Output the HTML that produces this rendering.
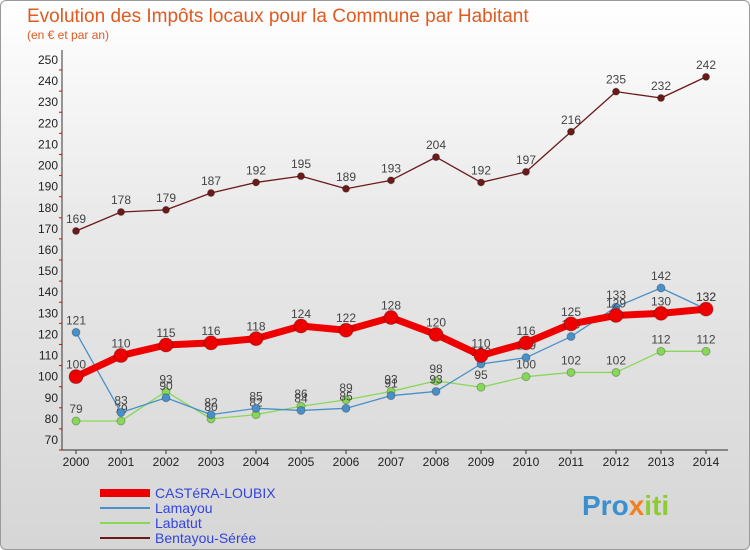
<!DOCTYPE html>
<html><head><meta charset="utf-8"><style>
body{margin:0;width:750px;height:550px;overflow:hidden;font-family:"Liberation Sans",sans-serif}
#wrap{position:absolute;left:0;top:0;width:748px;height:548px;border:1px solid #999;border-radius:6px;background:linear-gradient(#fff 0%,#e9e9e9 40%,#d6d6d6 100%)}
</style></head><body>
<div id="wrap"></div>
<svg id="chart" width="750" height="550" style="position:absolute;left:0;top:0" font-family="Liberation Sans, sans-serif">
<text x="27" y="22" font-size="19" fill="#e05a20">Evolution des Impôts locaux pour la Commune par Habitant</text>
<text x="27" y="39" font-size="12" fill="#e05a20">(en € et par an)</text>
<g id="axes"></g><g id="series"></g><g id="legend"></g>
<text x="582" y="515" font-size="28" font-weight="bold" fill="#3a8fd0">Pro<tspan fill="#f08020">x</tspan><tspan fill="#8ccc30">iti</tspan></text>
</svg>
<script>
const years=[2000,2001,2002,2003,2004,2005,2006,2007,2008,2009,2010,2011,2012,2013,2014];
const yTicks=[70,80,90,100,110,120,130,140,150,160,170,180,190,200,210,220,230,240,250];
const castera=[100,110,115,116,118,124,122,128,120,110,116,125,129,130,132];
const lamayou=[121,83,90,82,85,84,85,91,93,106,109,119,133,142,132];
const labatut=[79,79,93,80,82,86,89,93,98,95,100,102,102,112,112];
const bentayou=[169,178,179,187,192,195,189,193,204,192,197,216,235,232,242];
const seriesNames=["CASTéRA-LOUBIX","Lamayou","Labatut","Bentayou-Sérée"];
const NS="http://www.w3.org/2000/svg";
const x=i=>76+i*45;
const y=v=>440-(v-70)*380/180;
function mk(tag,attrs,parent,text){const e=document.createElementNS(NS,tag);for(const k in attrs)e.setAttribute(k,attrs[k]);if(text!==undefined)e.textContent=text;parent.appendChild(e);return e;}
const axes=document.getElementById('axes');
let ax=mk('line',{x1:62,y1:50,x2:62,y2:450,stroke:'#333'},axes);


ax=mk('line',{x1:62,y1:450,x2:728,y2:450,stroke:'#333'},axes);


yTicks.forEach(v=>{
 const t=mk('text',{x:58,y:y(v)+4,'font-size':12,fill:'#222','text-anchor':'end'},axes,v);
 
 
 mk('line',{x1:59,x2:62,y1:y(v)+10,y2:y(v)+10,stroke:'#e00'},axes);
});
years.forEach((yr,i)=>{
 mk('line',{x1:x(i),x2:x(i),y1:450,y2:454,stroke:'#333'},axes);
 const t=mk('text',{x:x(i),y:466,'font-size':12,fill:'#222','text-anchor':'middle'},axes,yr);
 
 
});
const sg=document.getElementById('series');
function draw(data,color,w,r,name){
 const g=mk('g',{},sg);
 
 
 mk('polyline',{points:data.map((v,i)=>x(i)+','+y(v)).join(' '),fill:'none',stroke:color,'stroke-width':w,'stroke-linejoin':'round'},g);
 data.forEach((v,i)=>{
  const c=mk('circle',{cx:x(i),cy:y(v),r:r,fill:color,stroke:'rgba(0,0,0,0.25)'},g);
  
  
  const t=mk('text',{x:x(i),y:y(v)-8,'font-size':12,fill:'#444','text-anchor':'middle'},g,v);
  
  
 });
}
draw(bentayou,'#6b1a1a',1.3,3.5,'bentayou-series');
draw(labatut,'#88d858',1.3,4,'labatut-series');
draw(lamayou,'#4a90c8',1.3,4,'lamayou-series');
draw(castera,'#ee0000',7,7,'castera-series');
const lg=document.getElementById('legend');
const cols=['#ee0000','#4a90c8','#88d858','#6b1a1a'];const ws=[8,2,2,2];
seriesNames.forEach((n,i)=>{
 const yy=493+i*15;
 const l=mk('line',{x1:100,x2:150,y1:yy,y2:yy,stroke:cols[i],'stroke-width':ws[i]},lg);
 
 
 const t=mk('text',{x:155,y:yy+5,'font-size':14,fill:'#3344dd'},lg,n);
 
 
});
</script>
</body></html>
